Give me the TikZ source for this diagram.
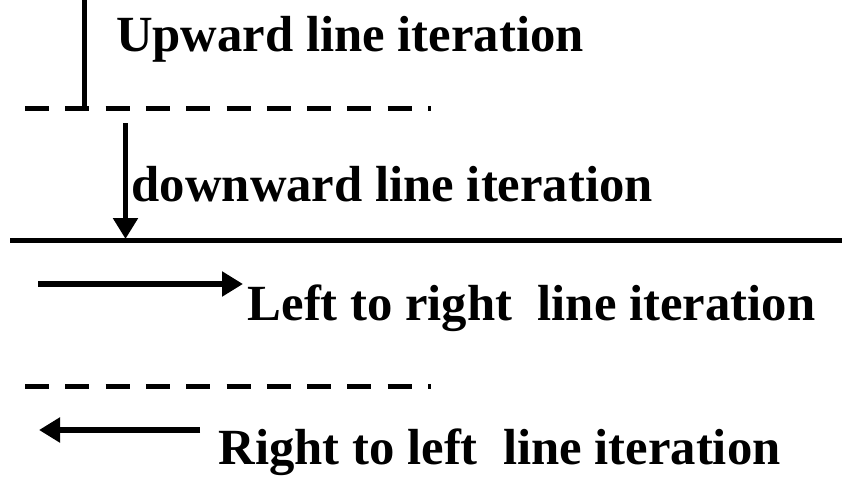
\documentclass[tikz,border=0pt]{standalone}
\usepackage{fontspec}
\setmainfont{Liberation Serif}
\usetikzlibrary{arrows.meta}
\tikzset{
  solidln/.style={line width=5pt},
  dashln/.style={line width=5pt, dash pattern=on 24pt off 16.3pt},
  arr/.style={line width=5.5pt, -{Triangle[length=21pt,width=24pt]}},
  lbl/.style={anchor=base west, inner sep=0pt, font=\fontsize{50.7}{60}\selectfont\bfseries}
}
\begin{document}
\begin{tikzpicture}[x=1pt,y=-1pt]
\useasboundingbox (0,0) rectangle (842,476);
% coordinates
\coordinate (upT) at (84,0);
\coordinate (upB) at (84,111);
\coordinate (d1L) at (25,108.5);
\coordinate (d1R) at (431,108.5);
\coordinate (dnS) at (125.5,123);
\coordinate (dnE) at (125.5,239);
\coordinate (sL) at (10,240);
\coordinate (sR) at (842,240);
\coordinate (lrS) at (38,284);
\coordinate (lrE) at (243,284);
\coordinate (d2L) at (25,386.5);
\coordinate (d2R) at (431,386.5);
\coordinate (rlS) at (200,430);
\coordinate (rlE) at (39,430);
% lines
\draw[solidln] (upT) -- (upB);
\draw[dashln] (d1L) -- (d1R);
\draw[arr] (dnS) -- (dnE);
\draw[solidln] (sL) -- (sR);
\draw[arr] (lrS) -- (lrE);
\draw[dashln] (d2L) -- (d2R);
\draw[arr] (rlS) -- (rlE);
% labels
\node[lbl] (t1) at (116,51.5) {Upward line iteration};
\node[lbl] (t2) at (131.5,201.5) {downward line iteration};
\node[lbl] (t3) at (247.5,320.5) {Left to right\ \ line iteration};
\node[lbl] (t4) at (218.5,464.5) {Right to left\ \ line iteration};
\end{tikzpicture}
\end{document}
